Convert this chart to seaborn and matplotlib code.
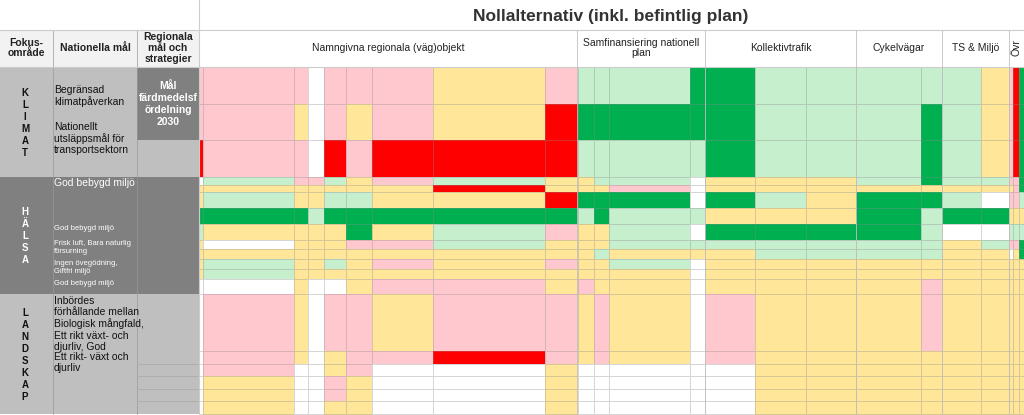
import numpy as np
import matplotlib
matplotlib.use("Agg")
import matplotlib.pyplot as plt
from matplotlib.colors import ListedColormap
import seaborn as sns

sns.set_theme(style="white")

# Bedömningsmatris: W=ingen, P=negativ, R=starkt negativ, Y=neutral, L=positiv, G=starkt positiv
col_edges = [199, 203, 294, 308, 324, 346, 372, 433, 545, 578, 594, 609, 690, 705,
             755, 806, 856, 921, 942, 981, 1009, 1013, 1019, 1024]
row_edges = [67, 104, 140, 177, 185, 192, 208, 224, 240, 249, 259, 269, 279, 294,
             351, 364, 376, 389, 401, 414]
rows = [
    "PPPWPPPYPLLLGGLLLLLYPRG",
    "PPYWPYPYRGGGGGLLLGLYPRG",
    "RPPWRPRRRLLLLGLLLGLYPRG",
    "WLPPLYPLYYLLWYYYLGLLPPG",
    "YYYYYYYRYYYPWYYYYYYYYPG",
    "YLYYLLYYRGGGWGLYGGLWPPL",
    "GGGLGGGGGLGLLYYYGLGGYYY",
    "LYYYYGYLPYYLWGGGGLWWLLL",
    "YWYYYPPLYYYLLLLLLLYLPPG",
    "YYYYYYYYYYLYYYLLLLYYWYG",
    "YLYYLYPYPYYLWYYYYYYYYYY",
    "YLYYYYYYYYYYWYYYYYYYYYY",
    "WWYWWYPPYPYYWYYYYPYYYYY",
    "WPYWPPYPPYPYWPYYYPYYYYY",
    "WPYWYPPRPYPYWPYYYYYYYYY",
    "WPWWYPWWYWWWWWYYYYYYYYY",
    "WYWWPYWWYWWWWWYYYYYYYYY",
    "WYWWPYWWYWWWWWYYYYYYYYY",
    "WYWWYYWWYWWWWWYYYYYYYYY",
]
codes = "WPRYLG"
palette = ["#ffffff", "#ffc7ce", "#ff0000", "#ffe699", "#c6efce", "#00b050"]

groups = ["Namngivna regionala (väg)objekt", "Samfinansiering nationell\nplan",
          "Kollektivtrafik", "Cykelvägar", "TS & Miljö"]
group_x = [(199, 577), (577, 705), (705, 856), (856, 942), (942, 1009)]

fig = plt.figure(figsize=(10.24, 4.15), dpi=100)
ax = fig.add_axes([0, 0, 1, 1])
ax.set_xlim(0, 1024)
ax.set_ylim(415, 0)
ax.axis("off")

mat = np.array([[codes.index(c) for c in r] for r in rows])
ax.pcolormesh(col_edges, row_edges, mat, cmap=ListedColormap(palette), vmin=-0.5, vmax=5.5,
              edgecolor=(0.55, 0.55, 0.55, 0.35), linewidth=0.4)

# vänstra tabellen
ax.fill_between([0, 199], 67, 177, color="#bfbfbf", lw=0)
ax.fill_between([137, 199], 67, 140, color="#808080", lw=0)
ax.fill_between([0, 199], 177, 294, color="#808080", lw=0)
ax.fill_between([0, 199], 294, 414, color="#bfbfbf", lw=0)
for x in [53, 137]:
    ax.plot([x, x], [30, 414], color="#999999", lw=0.5)
for y in [364, 376, 389, 401]:
    ax.plot([137, 199], [y, y], color="#a8a8a8", lw=0.5)

ax.text(611, 17, "Nollalternativ (inkl. befintlig plan)", ha="center", va="center",
        fontsize=12.5, fontweight="bold", color="#333333", family="Liberation Sans")
ax.plot([0, 1024], [30, 30], color="#cccccc", lw=0.8)
ax.plot([199, 199], [0, 414], color="#cccccc", lw=0.8)
ax.plot([0, 1024], [67, 67], color="#cccccc", lw=0.8)
ax.fill_between([0, 199], 30, 67, color="#f2f2f2", lw=0)

hdr = dict(ha="center", va="center", fontsize=7.5, fontweight="bold", color="#222222",
           family="Liberation Sans", linespacing=1.1)
ax.text(26, 48, "Fokus-\nområde", **hdr)
ax.text(95, 48, "Nationella mål", **hdr)
ax.text(168, 48, "Regionala\nmål och\nstrategier", **hdr)
for name, (x0, x1) in zip(groups, group_x):
    ax.text((x0 + x1) / 2, 48, name, **dict(hdr, fontweight="normal", fontsize=7.5))
    ax.plot([x1, x1], [30, 414], color="#c0c0c0", lw=0.6)
ax.text(1016, 48, "Övr", rotation=90, **dict(hdr, fontweight="normal"))

ax.text(168, 104, "Mål\nfärdmedelsf\nördelning\n2030", ha="center", va="center", fontsize=7.5,
        fontweight="bold", color="white", family="Liberation Sans", linespacing=1.25)

big = dict(ha="center", va="center", fontsize=7, fontweight="bold", color="#111111",
           family="Liberation Sans", linespacing=1.25)
ax.text(25, 123, "\n".join("KLIMAT"), **big)
ax.text(25, 236, "\n".join("HÄLSA"), **dict(big, color="white"))
ax.text(25, 355, "\n".join("LANDSKAP"), **big)

txt = dict(ha="left", va="top", fontsize=7.5, color="#111111", family="Liberation Sans",
           linespacing=1.15)
ax.text(54, 85, "Begränsad\nklimatpåverkan", **txt)
ax.text(54, 122, "Nationellt\nutsläppsmål för\ntransportsektorn", **txt)
ax.text(54, 178, "God bebygd miljö", **dict(txt, color="white"))
sm = dict(txt, fontsize=5.5, color="white")
ax.text(54, 225, "God bebygd miljö", **sm)
ax.text(54, 240, "Frisk luft, Bara naturlig\nförsurning", **sm)
ax.text(54, 260, "Ingen övegödning,\nGiftfri miljö", **sm)
ax.text(54, 280, "God bebygd miljö", **sm)
ax.text(54, 296, "Inbördes\nförhållande mellan\nBiologisk mångfald,\nEtt rikt växt- och\ndjurliv, God", **txt)
ax.text(54, 352, "Ett rikt- växt och\ndjurliv", **txt)

fig.savefig("out.png", dpi=100)
